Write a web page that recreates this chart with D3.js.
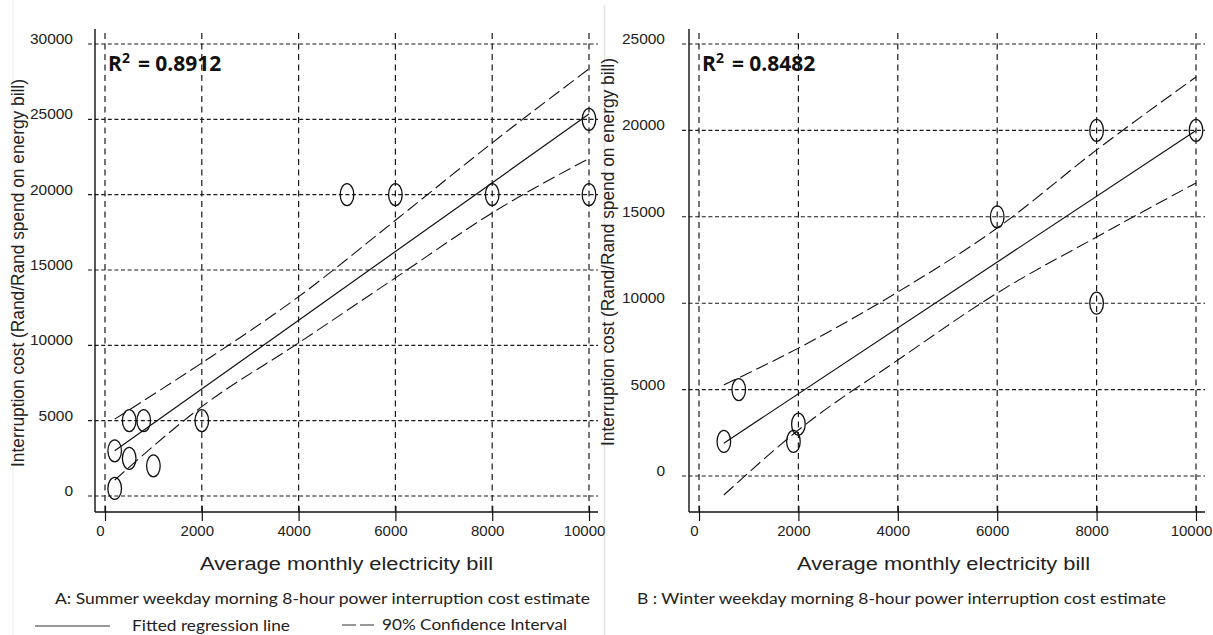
<!DOCTYPE html>
<html>
<head>
<meta charset="utf-8">
<script src="https://cdn.jsdelivr.net/npm/d3@7"></script>
<style>
  html, body { margin: 0; padding: 0; background: #fff; }
  svg { display: block; }
</style>
</head>
<body>
<svg id="chart" width="1213" height="635"></svg>
<script>
// ---------- DATA ----------
const xTicks = [0, 2000, 4000, 6000, 8000, 10000];

// Panel A: Summer
const summerYTicks = [0, 5000, 10000, 15000, 20000, 25000, 30000];
const summerX = [200, 200, 500, 800, 500, 1000, 2000, 5000, 6000, 8000, 10000, 10000];
const summerY = [500, 3000, 5000, 5000, 2500, 2000, 5000, 20000, 20000, 20000, 20000, 25000];
const summerFitX = [200, 10000];
const summerFitY = [3000, 25350];
const summerCIX = [200, 2000, 4000, 6000, 8000, 10000];
const summerUpper = [5100, 8830, 13230, 18300, 23440, 28350];
const summerLower = [1060, 5930, 10160, 14480, 18790, 22400];
const summerR2 = "0.8912";
const summerCaption = "A: Summer weekday morning  8-hour power interruption cost estimate";

// Panel B: Winter
const winterYTicks = [0, 5000, 10000, 15000, 20000, 25000];
const winterX = [500, 800, 1900, 2000, 6000, 8000, 8000, 10000];
const winterY = [2000, 5000, 2000, 3000, 15000, 20000, 10000, 20000];
const winterFitX = [500, 10000];
const winterFitY = [1900, 20000];
const winterCIX = [500, 2000, 4000, 6000, 8000, 10000];
const winterUpper = [5270, 7400, 10650, 14350, 18870, 23090];
const winterLower = [-1100, 2660, 6710, 10590, 13830, 16960];
const winterR2 = "0.8482";
const winterCaption = "B : Winter weekday morning  8-hour power interruption cost estimate";

const yTitle = "Interruption cost (Rand/Rand  spend on energy bill)";
const xTitle = "Average monthly  electricity bill";
const legendFit = "Fitted regression line";
const legendCI = "90% Confidence Interval";

// ---------- DRAW ----------
const svg = d3.select("#chart");
const numFont = "'Liberation Sans', Arial, sans-serif";
const capFont = "Lato, 'Open Sans', sans-serif";

// faint image borders
svg.append("line").attr("x1", 13).attr("x2", 13).attr("y1", 0).attr("y2", 635)
  .attr("stroke", "#ececec").attr("stroke-width", 1);
svg.append("line").attr("x1", 604.5).attr("x2", 604.5).attr("y1", 5).attr("y2", 635)
  .attr("stroke", "#e2e2e2").attr("stroke-width", 1.5);

function drawPanel(cfg) {
  const g = svg.append("g");
  const x = d3.scaleLinear().domain([0, 10000]).range(cfg.xRange);
  const y = d3.scaleLinear().domain([0, cfg.yTicks[cfg.yTicks.length - 1]]).range(cfg.yRange);

  // horizontal gridlines
  g.selectAll(".hg").data(cfg.yTicks).join("line")
    .attr("x1", cfg.axisX - 7).attr("x2", cfg.gridRight)
    .attr("y1", d => y(d)).attr("y2", d => y(d))
    .attr("stroke", "#1a1a1a").attr("stroke-width", 1.1)
    .attr("stroke-dasharray", "4,2.6");
  // vertical gridlines
  g.selectAll(".vg").data(xTicks).join("line")
    .attr("x1", d => x(d)).attr("x2", d => x(d))
    .attr("y1", 33).attr("y2", cfg.axisY)
    .attr("stroke", "#1a1a1a").attr("stroke-width", 1.2)
    .attr("stroke-dasharray", "6,4.5");

  // axes (d3 axes, domain paths replaced by frame lines)
  const xAxis = d3.axisBottom(x).tickValues(xTicks).tickSize(9).tickPadding(10)
    .tickFormat(d3.format("d"));
  const gx = g.append("g").attr("transform", `translate(0,${cfg.axisY - 6})`).call(xAxis);
  gx.select(".domain").remove();
  gx.selectAll(".tick line").attr("stroke", "#111").attr("stroke-width", 1.2).attr("y2", 15);
  gx.selectAll(".tick text")
    .attr("font-family", numFont).attr("font-size", 15).attr("fill", "#222")
    .attr("dx", -5).attr("y", 30).attr("dy", 0);

  const yAxis = d3.axisLeft(y).tickValues(cfg.yTicks).tickSize(0).tickPadding(0)
    .tickFormat(d3.format("d"));
  const gy = g.append("g").attr("transform", `translate(${cfg.labelRight},0)`).call(yAxis);
  gy.select(".domain").remove();
  gy.selectAll(".tick text")
    .attr("font-family", numFont).attr("font-size", 15.5).attr("fill", "#222")
    .attr("dy", -0.5).attr("x", 0);

  // frame lines
  g.append("line").attr("x1", cfg.axisX).attr("x2", cfg.axisX).attr("y1", 29).attr("y2", cfg.axisY)
    .attr("stroke", "#111").attr("stroke-width", 1.4);
  g.append("line").attr("x1", cfg.axisX).attr("x2", cfg.gridRight).attr("y1", cfg.axisY).attr("y2", cfg.axisY)
    .attr("stroke", "#111").attr("stroke-width", 1.4);

  // confidence interval curves
  const ci = d3.line().x(d => x(d[0])).y(d => y(d[1])).curve(d3.curveMonotoneX);
  [cfg.upper, cfg.lower].forEach(arr => {
    g.append("path").datum(cfg.ciX.map((v, i) => [v, arr[i]]))
      .attr("d", ci).attr("fill", "none").attr("stroke", "#111").attr("stroke-width", 1.1)
      .attr("stroke-dasharray", "13,5");
  });
  // fitted line
  g.append("path").datum(cfg.fitX.map((v, i) => [v, cfg.fitY[i]]))
    .attr("d", d3.line().x(d => x(d[0])).y(d => y(d[1])))
    .attr("fill", "none").attr("stroke", "#111").attr("stroke-width", 1.2);

  // points (ellipses)
  g.selectAll(".pt").data(cfg.px.map((v, i) => [v, cfg.py[i]])).join("ellipse")
    .attr("cx", d => x(d[0])).attr("cy", d => y(d[1]))
    .attr("rx", 6.8).attr("ry", 11)
    .attr("fill", "none").attr("stroke", "#111").attr("stroke-width", 1.3);

  // R^2 annotation
  const r = g.append("text").attr("x", cfg.r2X).attr("y", 71)
    .attr("font-family", "'Open Sans', Lato, sans-serif").attr("font-weight", "bold")
    .attr("font-size", 21).attr("fill", "#111");
  r.append("tspan").text("R");
  r.append("tspan").attr("font-size", 14).attr("dy", -8).text("2");
  r.append("tspan").attr("dy", 8).attr("dx", 8).text("= " + cfg.r2);

  // y-axis title
  g.append("text")
    .attr("transform", `translate(${cfg.yTitleX},${cfg.yTitleY}) rotate(-90)`)
    .attr("text-anchor", "middle")
    .attr("font-family", numFont).attr("font-size", 17.5).attr("fill", "#222")
    .attr("textLength", 388).attr("lengthAdjust", "spacingAndGlyphs")
    .text(yTitle);

  // x-axis title
  g.append("text").attr("x", cfg.xTitleX).attr("y", 570)
    .attr("font-family", numFont).attr("font-size", 18).attr("fill", "#222")
    .attr("textLength", 293).attr("lengthAdjust", "spacingAndGlyphs")
    .text(xTitle);

  // caption
  g.append("text").attr("x", cfg.capX).attr("y", 604)
    .attr("font-family", capFont).attr("font-size", 14.5).attr("fill", "#222")
    .attr("textLength", cfg.capW).attr("lengthAdjust", "spacingAndGlyphs")
    .text(cfg.caption);
}

drawPanel({
  xRange: [105, 589], yRange: [496, 44], yTicks: summerYTicks,
  axisX: 95, axisY: 512, gridRight: 598, labelRight: 73,
  px: summerX, py: summerY, fitX: summerFitX, fitY: summerFitY,
  ciX: summerCIX, upper: summerUpper, lower: summerLower,
  r2: summerR2, r2X: 108, yTitleX: 24, yTitleY: 273, xTitleX: 200,
  caption: summerCaption, capX: 55, capW: 535
});

drawPanel({
  xRange: [699, 1196], yRange: [476, 44], yTicks: winterYTicks,
  axisX: 689, axisY: 512, gridRight: 1205, labelRight: 665,
  px: winterX, py: winterY, fitX: winterFitX, fitY: winterFitY,
  ciX: winterCIX, upper: winterUpper, lower: winterLower,
  r2: winterR2, r2X: 702, yTitleX: 614, yTitleY: 252, xTitleX: 797,
  caption: winterCaption, capX: 637, capW: 529
});

// legend
const lg = svg.append("g");
lg.append("line").attr("x1", 35).attr("x2", 110).attr("y1", 626).attr("y2", 626)
  .attr("stroke", "#333").attr("stroke-width", 1.2);
lg.append("text").attr("x", 132).attr("y", 631)
  .attr("font-family", capFont).attr("font-size", 14.5).attr("fill", "#222")
  .attr("textLength", 158).attr("lengthAdjust", "spacingAndGlyphs").text(legendFit);
lg.append("line").attr("x1", 342).attr("x2", 374).attr("y1", 625).attr("y2", 625)
  .attr("stroke", "#333").attr("stroke-width", 1.2).attr("stroke-dasharray", "14,4");
lg.append("text").attr("x", 382).attr("y", 630)
  .attr("font-family", capFont).attr("font-size", 14.5).attr("fill", "#222")
  .attr("textLength", 185).attr("lengthAdjust", "spacingAndGlyphs").text(legendCI);
</script>
</body>
</html>
